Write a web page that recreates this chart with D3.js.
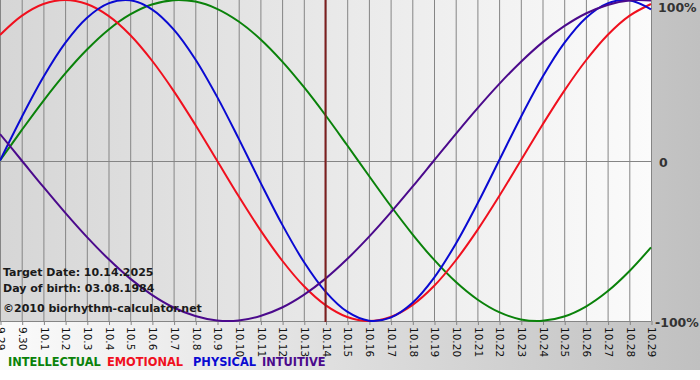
<!DOCTYPE html>
<html><head><meta charset="utf-8">
<script src="https://cdn.jsdelivr.net/npm/d3@7"></script>
<style>body{margin:0;background:#fff;}svg{display:block;}</style>
</head><body>
<script>
const dates = ["9.29","9.30","10.1","10.2","10.3","10.4","10.5","10.6","10.7","10.8","10.9","10.10","10.11","10.12","10.13","10.14","10.15","10.16","10.17","10.18","10.19","10.20","10.21","10.22","10.23","10.24","10.25","10.26","10.27","10.28","10.29"];
const intellectual = [0,0.189,0.372,0.541,0.690,0.815,0.910,0.972,0.999,0.990,0.945,0.866,0.756,0.618,0.458,0.282,0.095,-0.095,-0.282,-0.458,-0.618,-0.756,-0.866,-0.945,-0.990,-0.999,-0.972,-0.910,-0.815,-0.690,-0.541];
const emotional = [0.782,0.901,0.975,1,0.975,0.901,0.782,0.623,0.434,0.223,0,-0.223,-0.434,-0.623,-0.782,-0.901,-0.975,-1,-0.975,-0.901,-0.782,-0.623,-0.434,-0.223,0,0.223,0.434,0.623,0.782,0.901,0.975];
const physical = [0,0.270,0.520,0.731,0.888,0.979,0.998,0.942,0.817,0.631,0.398,0.136,-0.136,-0.398,-0.631,-0.817,-0.942,-0.998,-0.979,-0.888,-0.731,-0.520,-0.270,0,0.270,0.520,0.731,0.888,0.979,0.998,0.942];
const intuitive = [0.165,0,-0.165,-0.325,-0.476,-0.614,-0.736,-0.837,-0.916,-0.969,-0.997,-0.997,-0.969,-0.916,-0.837,-0.736,-0.614,-0.476,-0.325,-0.165,0,0.165,0.325,0.476,0.614,0.736,0.837,0.916,0.969,0.997,0.997];
const seriesNames = ["INTELLECTUAL","EMOTIONAL","PHYSICAL","INTUITIVE"];
const yTickLabels = ["100%","0","-100%"];
const yTickValues = [1,0,-1];
const targetDate = "10.14";
const infoLines = ["Target Date: 10.14.2025","Day of birth: 03.08.1984","©2010 biorhythm-calculator.net"];

const W=700,H=380;
const colors={INTELLECTUAL:"#0a820a",EMOTIONAL:"#f0101e",PHYSICAL:"#0a0ad2",INTUITIVE:"#4b0a8c"};
const valuesBy={INTELLECTUAL:intellectual,EMOTIONAL:emotional,PHYSICAL:physical,INTUITIVE:intuitive};

const svg=d3.select("body").append("svg").attr("width",W).attr("height",H);
const defs=svg.append("defs");
const g1=defs.append("linearGradient").attr("id","bg").attr("x1","0").attr("x2","1").attr("y1","0").attr("y2","0");
g1.append("stop").attr("offset","0").attr("stop-color","#fbfbfb");
g1.append("stop").attr("offset","1").attr("stop-color","#c0c0c0");
const g2=defs.append("linearGradient").attr("id","plotbg").attr("x1","0").attr("x2","1").attr("y1","0").attr("y2","0");
g2.append("stop").attr("offset","0").attr("stop-color","#d6d6d6");
g2.append("stop").attr("offset","1").attr("stop-color","#fbfbfb");

svg.append("rect").attr("x",0).attr("y",0).attr("width",W).attr("height",370).attr("fill","url(#bg)");

const x=d3.scalePoint().domain(dates).range([0,651]);
const y=d3.scaleLinear().domain([-1,1]).range([321,0]);

svg.append("rect").attr("x",0).attr("y",0).attr("width",651).attr("height",321).attr("fill","url(#plotbg)");

// vertical grid
svg.append("g").selectAll("line").data(dates).join("line")
  .attr("x1",d=>x(d)+0.5).attr("x2",d=>x(d)+0.5).attr("y1",0).attr("y2",321)
  .attr("stroke","#858585").attr("stroke-width",1);
// zero line
svg.append("line").attr("x1",0).attr("x2",651).attr("y1",Math.round(y(0))+0.5).attr("y2",Math.round(y(0))+0.5)
  .attr("stroke","#858585");

// x axis
const xAxis=d3.axisBottom(x).tickSize(4).tickPadding(5);
const ax=svg.append("g").attr("transform","translate(0.5,321)").call(xAxis);
ax.select(".domain").attr("stroke","#858585").attr("d","M-0.5,0.5H651");
ax.selectAll(".tick line").attr("stroke","#858585");
ax.selectAll(".tick text").attr("transform","rotate(90)").attr("x",6).attr("y",0).attr("dy","0.36em")
  .attr("text-anchor","start").attr("font-family","DejaVu Sans, Verdana, sans-serif").attr("font-size","10.5px").attr("fill","#111");

// curves
const line=d3.line().x((d,i)=>x(dates[i])).y(d=>y(d)).curve(d3.curveCatmullRom);
seriesNames.forEach(n=>{
  svg.append("path").attr("d",line(valuesBy[n])).attr("fill","none").attr("stroke",colors[n]).attr("stroke-width",2);
});

// target line
svg.append("line").attr("x1",x(targetDate)).attr("x2",x(targetDate)).attr("y1",0).attr("y2",322)
  .attr("stroke","#7d1f1f").attr("stroke-width",2);

// y labels
const yLabelDy=[12,6,6];
svg.append("g").selectAll("text").data(yTickValues).join("text")
  .attr("x",(d,i)=>i==2?655:(i==1?659:658)).attr("y",(d,i)=>Math.min(y(d)+yLabelDy[i],i==0?12:999))
  .attr("font-family","DejaVu Sans, Verdana, sans-serif").attr("font-weight","bold").attr("font-size","12.5px").attr("fill","#333")
  .text((d,i)=>yTickLabels[i]);

// info text
svg.append("g").selectAll("text").data(infoLines).join("text")
  .attr("x",3).attr("y",(d,i)=>[276,292,312][i])
  .attr("font-family","DejaVu Sans, Verdana, sans-serif").attr("font-weight","bold").attr("font-size","11px").attr("fill","#1a1a1a")
  .text(d=>d);

// legend
const legX=[8,107,193,262];
svg.append("g").selectAll("text").data(seriesNames).join("text")
  .attr("x",(d,i)=>legX[i]).attr("y",366)
  .attr("font-family","DejaVu Sans, Verdana, sans-serif").attr("font-weight","bold").attr("font-size","11.4px")
  .attr("fill",d=>colors[d]).text(d=>d);
</script>
</body></html>
